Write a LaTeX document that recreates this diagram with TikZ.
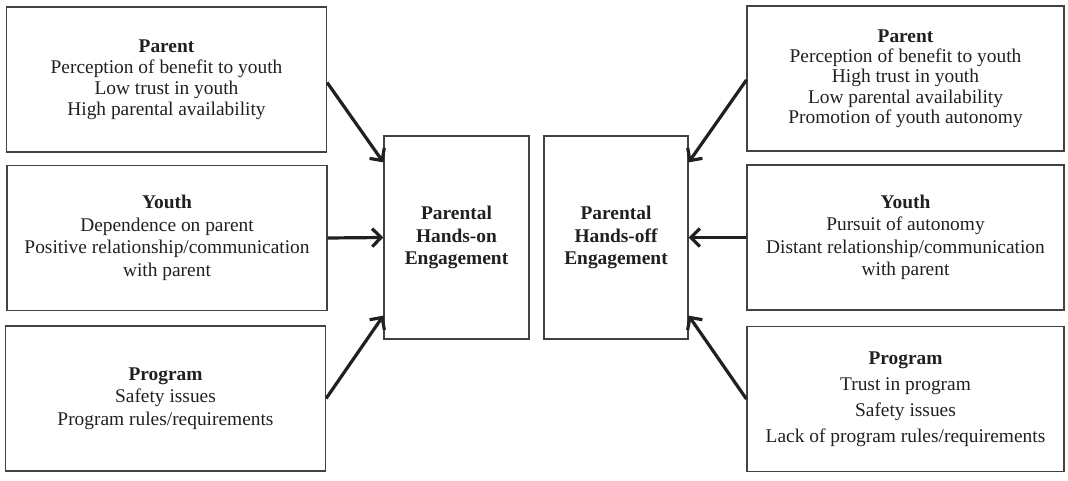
\documentclass[tikz,border=0pt]{standalone}
\usepackage{fontspec}
\setmainfont{Liberation Serif}
\usetikzlibrary{arrows.meta}
\definecolor{ink}{HTML}{231F20}
\begin{document}
\begin{tikzpicture}[x=1pt,y=-1pt,
  box/.style={draw=ink!85, line width=1.2pt, minimum width=320pt, minimum height=145pt,
    align=center, text=ink, inner sep=0pt, font=\fontsize{19.4}{21}\selectfont},
  midbox/.style={box, minimum width=145pt, minimum height=203pt,
    font=\fontsize{19.4}{22.5}\selectfont\bfseries},
  arr/.style={draw=ink, line width=3.2pt, -{Straight Barb[length=9pt,width=18pt]}}]
\useasboundingbox (0,0) rectangle (1068,481);

\node[box] (lp) at (166.5,79.5) {\textbf{Parent}\\Perception of benefit to youth\\Low trust in youth\\High parental availability};
\node[box, font=\fontsize{19.4}{22.5}\selectfont] (ly) at (167,238) {\textbf{Youth}\\Dependence on parent\\Positive relationship/communication\\with parent};
\node[box, font=\fontsize{19.4}{22.5}\selectfont] (lg) at (165.5,398.5) {\textbf{Program}\\Safety issues\\Program rules/requirements};

\node[midbox] (hon) at (456.5,237.5) {Parental\\Hands-on\\Engagement};
\node[midbox, minimum width=144pt] (hoff) at (616,237.5) {Parental\\Hands-off\\Engagement};

\node[box, minimum width=317pt, font=\fontsize{19.4}{20.3}\selectfont] (rp) at (905.5,78.5) {\textbf{Parent}\\Perception of benefit to youth\\High trust in youth\\Low parental availability\\Promotion of youth autonomy};
\node[box, minimum width=317pt, font=\fontsize{19.4}{22.5}\selectfont] (ry) at (905.5,237.5) {\textbf{Youth}\\Pursuit of autonomy\\Distant relationship/communication\\with parent};
\node[box, minimum width=317pt, font=\fontsize{19.4}{26}\selectfont] (rg) at (905.5,399) {\textbf{Program}\\Trust in program\\Safety issues\\Lack of program rules/requirements};

\draw[arr] ([yshift=-3pt]lp.east) -- ([yshift=-27pt]hon.north west);
\draw[arr] (ly.east) -- (hon.west);
\draw[arr] (lg.east) -- ([yshift=24pt]hon.south west);
\draw[arr] ([yshift=-1.5pt]rp.west) -- ([yshift=-27pt]hoff.north east);
\draw[arr] (ry.west) -- (hoff.east);
\draw[arr] (rg.west) -- ([yshift=24pt]hoff.south east);
\end{tikzpicture}
\end{document}
